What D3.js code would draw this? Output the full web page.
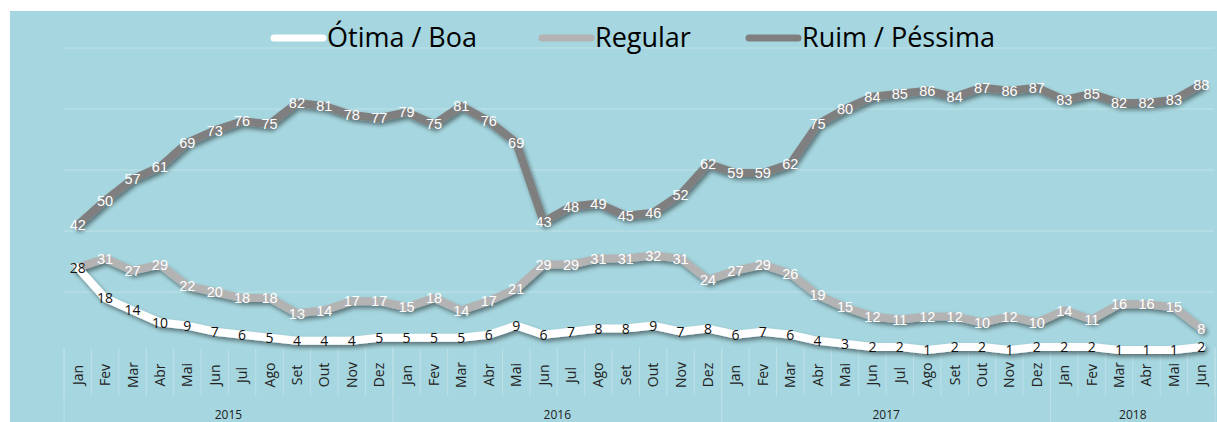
<!DOCTYPE html>
<html>
<head>
<meta charset="utf-8">
<script src="https://cdn.jsdelivr.net/npm/d3@7"></script>
<style>
  body { margin: 0; background: #fff; }
  svg { display: block; }
</style>
</head>
<body>
<svg id="chart" width="1217" height="422"></svg>
<script>
/* ============================================================
   DATA
============================================================ */
const months = ["Jan","Fev","Mar","Abr","Mai","Jun","Jul","Ago","Set","Out","Nov","Dez"];
const years = ["2015","2016","2017","2018"];
const monthsPerYear = [12, 12, 12, 6];
const seriesNames = ["Ótima / Boa", "Regular", "Ruim / Péssima"];

const otimaBoa = [28,18,14,10,9,7,6,5,4,4,4,5, 5,5,5,6,9,6,7,8,8,9,7,8, 6,7,6,4,3,2,2,1,2,2,1,2, 2,2,1,1,1,2];
const regular  = [28,31,27,29,22,20,18,18,13,14,17,17, 15,18,14,17,21,29,29,31,31,32,31,24, 27,29,26,19,15,12,11,12,12,10,12,10, 14,11,16,16,15,8];
const ruim     = [42,50,57,61,69,73,76,75,82,81,78,77, 79,75,81,76,69,43,48,49,45,46,52,62, 59,59,62,75,80,84,85,86,84,87,86,87, 83,85,82,82,83,88];

const yTicks = [20, 40, 60, 80, 100];

/* ============================================================
   SETUP
============================================================ */
const svg = d3.select("#chart");
const W = 1217, H = 422;
const plotLeft = 64, plotRight = 1215, plotTop = 48, plotBottom = 353;

const categories = [];
years.forEach((yr, i) => {
  for (let m = 0; m < monthsPerYear[i]; m++) categories.push({ month: months[m], year: yr });
});

const x = d3.scaleBand().domain(d3.range(categories.length)).range([plotLeft, plotRight]).padding(0);
const y = d3.scaleLinear().domain([0, 100]).range([plotBottom, plotTop]);
const cx = i => x(i) + x.bandwidth() / 2;

const defs = svg.append("defs");
defs.append("filter").attr("id", "shadow")
  .attr("x", "-10%").attr("y", "-30%").attr("width", "120%").attr("height", "160%")
  .append("feDropShadow")
  .attr("dx", 2).attr("dy", 3).attr("stdDeviation", 2)
  .attr("flood-color", "#000").attr("flood-opacity", 0.45);

// background
svg.append("rect").attr("x", 10).attr("y", 11).attr("width", W - 10).attr("height", H - 11)
  .attr("fill", "#a6d6df");

/* ============================================================
   GRID + AXIS
============================================================ */
svg.append("g").selectAll("line").data(yTicks).join("line")
  .attr("x1", plotLeft).attr("x2", plotRight - 1)
  .attr("y1", d => y(d)).attr("y2", d => y(d))
  .attr("stroke", "#bfe2e8").attr("stroke-width", 1);

const axis = svg.append("g");
const sepTop = plotBottom - 5;

// month separators
axis.selectAll("line.msep").data(d3.range(categories.length + 1)).join("line")
  .attr("class", "msep")
  .attr("x1", i => plotLeft + i * x.bandwidth()).attr("x2", i => plotLeft + i * x.bandwidth())
  .attr("y1", sepTop).attr("y2", 396)
  .attr("stroke", "#bde1e7").attr("stroke-width", 1);

// year separators
let acc = 0;
const yearEdges = [0];
monthsPerYear.forEach(n => { acc += n; yearEdges.push(acc); });
axis.selectAll("line.ysep").data(yearEdges).join("line")
  .attr("class", "ysep")
  .attr("x1", i => plotLeft + i * x.bandwidth()).attr("x2", i => plotLeft + i * x.bandwidth())
  .attr("y1", sepTop).attr("y2", H)
  .attr("stroke", "#bde1e7").attr("stroke-width", 1);

axis.selectAll("text.month").data(categories).join("text")
  .attr("class", "month")
  .attr("transform", (d, i) => `translate(${cx(i) + 5},375) rotate(-90)`)
  .attr("text-anchor", "middle")
  .attr("font-family", "Open Sans, sans-serif").attr("font-size", 14)
  .attr("fill", "#222")
  .text(d => d.month);

axis.selectAll("text.year").data(years).join("text")
  .attr("class", "year")
  .attr("x", (d, i) => plotLeft + (yearEdges[i] + yearEdges[i + 1]) / 2 * x.bandwidth())
  .attr("y", 419)
  .attr("text-anchor", "middle")
  .attr("font-family", "Open Sans, sans-serif").attr("font-size", 12)
  .attr("fill", "#222")
  .text(d => d);

/* ============================================================
   LINES + LABELS
============================================================ */
const series = [
  { name: seriesNames[0], values: otimaBoa, color: "#ffffff", label: "#111", font: "Open Sans, sans-serif", size: 14 },
  { name: seriesNames[1], values: regular,  color: "#b3b3b3", label: "#fff", font: "Liberation Sans, Arial, sans-serif", size: 14.5 },
  { name: seriesNames[2], values: ruim,     color: "#7f7f7f", label: "#fff", font: "Liberation Sans, Arial, sans-serif", size: 14.5 }
];

const line = d3.line().x((d, i) => cx(i)).y(d => y(d));

// draw dark first, white last (white on top like the reference)
[2, 1, 0].forEach(k => {
  const s = series[k];
  svg.append("path")
    .attr("d", line(s.values))
    .attr("fill", "none")
    .attr("stroke", s.color)
    .attr("stroke-width", 8)
    .attr("stroke-linejoin", "round")
    .attr("stroke-linecap", "round")
    .attr("filter", "url(#shadow)");
});

[2, 1, 0].forEach(k => {
  const s = series[k];
  svg.append("g").selectAll("text").data(s.values).join("text")
    .attr("x", (d, i) => cx(i))
    .attr("y", d => y(d))
    .attr("dy", "0.36em")
    .attr("text-anchor", "middle")
    .attr("font-family", s.font)
    .attr("font-size", s.size)
    .attr("fill", s.label)
    .text(d => d);
});

/* ============================================================
   LEGEND
============================================================ */
const legendX = [270, 538, 745];
const legend = svg.append("g");
series.forEach((s, i) => {
  legend.append("line")
    .attr("x1", legendX[i] + 4).attr("x2", legendX[i] + 53)
    .attr("y1", 38).attr("y2", 38)
    .attr("stroke", s.color).attr("stroke-width", 7).attr("stroke-linecap", "round");
  legend.append("text")
    .attr("x", legendX[i] + 57).attr("y", 38).attr("dy", "0.35em")
    .attr("font-family", "Open Sans, sans-serif").attr("font-size", 27)
    .attr("fill", "#000")
    .text(s.name);
});
</script>
</body>
</html>
